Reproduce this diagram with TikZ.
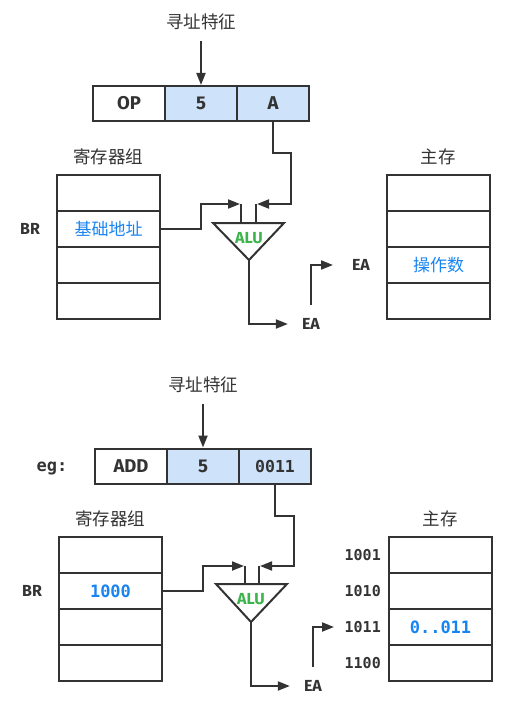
\documentclass[tikz,border=0pt]{standalone}
\usepackage{fontspec}
\setmainfont{Fira Sans}
\newfontfamily\cjk{Noto Sans CJK SC}
\newfontfamily\monof{DejaVu Sans Mono}
\usetikzlibrary{arrows.meta}
\definecolor{ink}{RGB}{51,51,51}
\definecolor{hlblue}{RGB}{206,227,250}
\definecolor{txtblue}{RGB}{24,132,242}
\definecolor{alugreen}{RGB}{60,180,75}
\tikzset{
  cell/.style={draw=ink, line width=2pt, minimum width=72pt, minimum height=35pt,
    inner sep=0pt, text=ink, font=\bfseries\fontsize{18.5}{18}\selectfont},
  hl/.style={fill=hlblue},
  row/.style={draw=ink, line width=2pt, minimum width=103pt, minimum height=36pt,
    inner sep=0pt},
  title/.style={text=ink, font=\cjk\fontsize{17.5}{18}\selectfont},
  cjkblue/.style={text=txtblue, font=\cjk\fontsize{17}{17}\selectfont},
  monoblue/.style={text=txtblue, font=\monof\bfseries\fontsize{17}{17}\selectfont},
  lab/.style={text=ink, inner sep=0pt, font=\bfseries\fontsize{16}{16}\selectfont},
  monolab/.style={text=ink, inner sep=0pt, font=\monof\bfseries\fontsize{15}{15}\selectfont},
  alutext/.style={text=alugreen, font=\bfseries\fontsize{16}{16}\selectfont},
  wire/.style={draw=ink, line width=2pt},
  arr/.style={wire, -{Triangle[length=12pt,width=9pt]}},
}
\begin{document}
\begin{tikzpicture}[x=1pt,y=-1pt]
\useasboundingbox (0,0) rectangle (519,714);

% ---------- general form: base register addressing ----------
\node[title] (t1) at (201,22) {寻址特征};
\node[cell] (op1) at (129,103.5) {OP};
\node[cell,hl] (m1) at (201,103.5) {5};
\node[cell,hl] (a1) at (273,103.5) {A};
\draw[arr, shorten <=7pt] (t1.south) -- (m1.north);

% register group
\node[title] (rg1) at (108,157) {寄存器组};
\node[row] (r1a) at (108.5,193) {};
\node[row,cjkblue] (r1b) at (108.5,229) {基础地址};
\node[row] (r1c) at (108.5,265) {};
\node[row] (r1d) at (108.5,301) {};
\node[lab] (br1) at (30,229) {BR};

% main memory
\node[title] (mm1) at (438,157) {主存};
\node[row] (s1a) at (438.5,193) {};
\node[row] (s1b) at (438.5,229) {};
\node[row,cjkblue] (s1c) at (438.5,265) {操作数};
\node[row] (s1d) at (438.5,301) {};

% adder
\coordinate (L1) at (213,223);
\coordinate (R1) at (284,223);
\coordinate (B1) at (249,260);
\draw[wire, line join=miter] (L1) -- (R1) -- (B1) -- cycle;
\node[alutext] (alu1) at (249,238) {ALU};
\coordinate (sl1) at (241,223);
\coordinate (sr1) at (256,223);
\draw[wire] (sl1) -- ++(0,-19);
\draw[wire] (sr1) -- ++(0,-19);
\draw[arr] (r1b.east) -| (201,204) -- ([xshift=-1pt]sl1 |- 0,204);
\draw[arr] (a1.south) -- ++(0,31) -| (291,204) -- ([xshift=1pt]sr1 |- 0,204);

% effective address
\node[lab] (ea1) at (311,324) {EA};
\draw[arr] (B1) |- ([xshift=-14pt]ea1.west);
\node[lab] (ea2) at (361,265) {EA};
\coordinate (e1) at (333,265);
\draw[arr] ([yshift=19pt]ea1.center) |- (e1);

% ---------- example ----------
\begin{scope}[shift={(2,362)}]
\node[title] (t2) at (201,23) {寻址特征};
\node[cell] (op2) at (129,104) {ADD};
\node[cell,hl] (m2) at (201,104) {5};
\node[cell,hl,font=\monof\bfseries\fontsize{16.5}{16}\selectfont] (a2) at (273,104) {0011};
\node[text=ink, font=\monof\bfseries\fontsize{17}{17}\selectfont] (eg) at (50,106) {eg:};
\draw[arr, shorten <=7pt] (t2.south) -- (m2.north);

% register group
\node[title] (rg2) at (108,157) {寄存器组};
\node[row] (r2a) at (108.5,193) {};
\node[row,monoblue] (r2b) at (108.5,229) {1000};
\node[row] (r2c) at (108.5,265) {};
\node[row] (r2d) at (108.5,301) {};
\node[lab] (br2) at (30,229) {BR};

% main memory
\node[title] (mm2) at (438,157) {主存};
\node[row] (s2a) at (438.5,193) {};
\node[row] (s2b) at (438.5,229) {};
\node[row,monoblue] (s2c) at (438.5,265) {0..011};
\node[row] (s2d) at (438.5,301) {};
\node[monolab, anchor=east] (ad1) at (379,193) {1001};
\node[monolab, anchor=east] (ad2) at (379,229) {1010};
\node[monolab, anchor=east] (ad3) at (379,265) {1011};
\node[monolab, anchor=east] (ad4) at (379,301) {1100};

% adder
\coordinate (L2) at (214,222);
\coordinate (R2) at (285,222);
\coordinate (B2) at (249,260);
\draw[wire, line join=miter] (L2) -- (R2) -- (B2) -- cycle;
\node[alutext] (alu2) at (249,237) {ALU};
\coordinate (sl2) at (243,222);
\coordinate (sr2) at (257,222);
\draw[wire] (sl2) -- ++(0,-18);
\draw[wire] (sr2) -- ++(0,-18);
\draw[arr] (r2b.east) -| (201,204) -- ([xshift=-1pt]sl2 |- 0,204);
\draw[arr] (a2.south) -- ++(0,31) -| (292,204) -- ([xshift=1pt]sr2 |- 0,204);

% effective address
\node[lab] (ea3) at (311,324) {EA};
\draw[arr] (B2) |- ([xshift=-14pt]ea3.west);
\coordinate (e2) at (332,265);
\draw[arr] ([yshift=19pt]ea3.center) |- (e2);
\end{scope}
\end{tikzpicture}
\end{document}
